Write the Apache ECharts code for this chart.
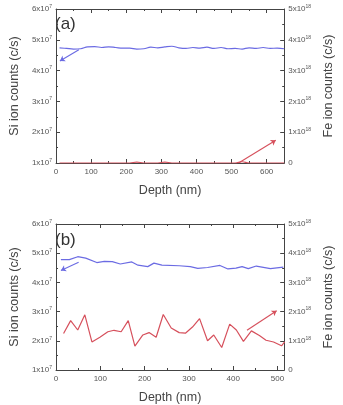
<!DOCTYPE html>
<html>
<head>
<meta charset="utf-8">
<script src="https://cdn.jsdelivr.net/npm/echarts@6/dist/echarts.min.js"></script>
<style>
  html, body { margin: 0; padding: 0; background: #fff; }
  #chart { width: 343px; height: 405px; }
</style>
</head>
<body>
<div id="chart"></div>
<script>
// Si in units of 1e7 c/s, Fe in units of 1e18 c/s, depth in nm
const depthA = [10, 30, 50, 70, 90, 110, 130, 150, 170, 190, 210, 230, 250, 270, 290, 310, 330,
  350, 370, 390, 410, 430, 450, 470, 490, 510, 530, 550, 570, 590, 610, 630, 650]
const siA = [4.74, 4.72, 4.70, 4.71, 4.77, 4.78, 4.75, 4.77, 4.75, 4.73, 4.73, 4.70, 4.71, 4.76, 4.74, 4.77, 4.79,
  4.74, 4.72, 4.75, 4.73, 4.76, 4.72, 4.75, 4.71, 4.72, 4.70, 4.74, 4.72, 4.75, 4.72, 4.73, 4.71]
const feA = [0, 0, 0, 0, 0, 0, 0, 0, 0, 0, 0, 0.03, 0, 0, 0, 0.03, 0,
  0, 0, 0, 0, 0, 0, 0, 0, 0, 0.04, 0, 0, 0, 0, 0, 0]

const depthSiB = [11, 30, 49, 67, 92, 109, 127, 145, 171, 185, 207, 221, 239, 278, 303, 320, 342,
  370, 388, 406, 420, 434, 452, 484, 513]
const siB = [4.78, 4.78, 4.88, 4.83, 4.68, 4.72, 4.71, 4.63, 4.70, 4.59, 4.54, 4.66, 4.59, 4.57, 4.54, 4.48, 4.51,
  4.58, 4.46, 4.49, 4.54, 4.47, 4.56, 4.47, 4.52]
const depthFeB = [17, 33, 49, 65, 81, 99, 117, 131, 147, 163, 178, 196, 210, 226, 242, 260, 278, 292,
  308, 324, 342, 356, 374, 392, 407, 423, 441, 459, 474, 491, 509, 516]
const feB = [1.25, 1.69, 1.37, 1.89, 0.96, 1.12, 1.31, 1.36, 1.31, 1.69, 0.82, 1.20, 1.28, 1.12, 1.90, 1.44, 1.28, 1.26,
  1.47, 1.76, 1.00, 1.20, 0.77, 1.57, 1.37, 0.98, 1.34, 1.18, 1.02, 0.96, 0.83, 0.96]

// arrows: [[x0, y0], [x1, y1]]
const arrowSiA = [[65, 4.68], [11, 4.31]]
const arrowFeA = [[520, 0], [626, 0.74]]
const arrowSiB = [[51, 4.69], [11, 4.41]]
const arrowFeB = [[431, 1.36], [498, 2.03]]

const xMaxA = 650
const xMaxB = 515

const blue = '#6b6be3'
const red = '#d6505c'
const axisColor = '#444'
const font = 'Liberation Sans'

const labelRich = {
  b: { fontSize: 8, color: '#555', fontFamily: font },
  s: { fontSize: 5, color: '#555', fontFamily: font, verticalAlign: 'top', padding: [0, 0, 5, 0] },
}

function siFmt(v) {
  return '{b|' + v + 'x10}{s|7}'
}
function feFmt(v) {
  return v === 0 ? '{b|0}' : '{b|' + v + 'x10}{s|18}'
}

function xAxes(grid, max, pos) {
  const base = {
    type: 'value',
    gridIndex: grid,
    min: 0,
    max: max,
    interval: 100,
    splitLine: { show: false },
    axisLine: { show: true, onZero: false, lineStyle: { color: axisColor } },
    axisTick: { show: true, inside: true, length: 4, lineStyle: { color: axisColor } },
    minorTick: { show: true, splitNumber: 2, length: 2, lineStyle: { color: axisColor } },
  }
  if (pos === 'top') {
    return Object.assign({}, base, { position: 'top', axisLabel: { show: false } })
  }
  return Object.assign({}, base, {
    position: 'bottom',
    name: 'Depth (nm)',
    nameLocation: 'middle',
    nameGap: 21,
    nameTextStyle: { fontSize: 12.5, color: '#444', fontFamily: font },
    axisLabel: { fontSize: 8, color: '#555', fontFamily: font, margin: 5, showMaxLabel: false },
  })
}

function yAxes(grid) {
  const common = {
    type: 'value',
    gridIndex: grid,
    interval: 1,
    splitLine: { show: false },
    axisLine: { show: true, onZero: false, lineStyle: { color: axisColor } },
    axisTick: { show: true, inside: true, length: 4, lineStyle: { color: axisColor } },
    minorTick: { show: true, splitNumber: 2, length: 2, lineStyle: { color: axisColor } },
    nameLocation: 'middle',
    nameRotate: 90,
    nameTextStyle: { fontSize: 12.5, color: '#444', fontFamily: font },
  }
  return [
    Object.assign({}, common, {
      position: 'left', min: 1, max: 6,
      name: 'Si ion counts (c/s)', nameGap: 32,
      axisLabel: { formatter: siFmt, rich: labelRich, margin: 4 },
    }),
    Object.assign({}, common, {
      position: 'right', min: 0, max: 5,
      name: 'Fe ion counts (c/s)', nameGap: 35,
      axisLabel: { formatter: feFmt, rich: labelRich, margin: 4 },
    }),
  ]
}

function zip(xs, ys) {
  return xs.map((x, i) => [x, ys[i]])
}

function lineSeries(xi, yi, data, color, smooth) {
  return {
    type: 'line',
    xAxisIndex: xi,
    yAxisIndex: yi,
    data: data,
    smooth: smooth,
    showSymbol: false,
    lineStyle: { color: color, width: 1.2 },
    itemStyle: { color: color },
    silent: true,
    animation: false,
  }
}

function arrowSeries(xi, yi, coords, color) {
  return {
    type: 'lines',
    coordinateSystem: 'cartesian2d',
    xAxisIndex: xi,
    yAxisIndex: yi,
    symbol: ['none', 'arrow'],
    symbolSize: 5,
    lineStyle: { color: color, width: 1.1, opacity: 1, curveness: 0 },
    data: [{ coords: coords }],
    silent: true,
    animation: false,
  }
}

const chart = echarts.init(document.getElementById('chart'), null, { renderer: 'canvas' })

const option = {
  backgroundColor: '#fff',
  animation: false,
  grid: [
    { left: 50, right: 52, top: 9, height: 154 },
    { left: 50, right: 52, top: 224, height: 157 },
  ],
  xAxis: [
    xAxes(0, xMaxA, 'bottom'),
    xAxes(0, xMaxA, 'top'),
    xAxes(1, xMaxB, 'bottom'),
    xAxes(1, xMaxB, 'top'),
  ],
  yAxis: yAxes(0).concat(yAxes(1)),
  graphic: [
    { type: 'text', left: 55, top: 16, style: { text: '(a)', fontSize: 17, fill: '#333', fontFamily: font } },
    { type: 'text', left: 55, top: 232, style: { text: '(b)', fontSize: 17, fill: '#333', fontFamily: font } },
  ],
  series: [
    lineSeries(0, 0, zip(depthA, siA), blue, 0.4),
    lineSeries(0, 1, zip(depthA, feA), red, 0.4),
    arrowSeries(0, 0, arrowSiA, blue),
    arrowSeries(0, 1, arrowFeA, red),
    lineSeries(2, 2, zip(depthSiB, siB), blue, false),
    lineSeries(2, 3, zip(depthFeB, feB), red, false),
    arrowSeries(2, 2, arrowSiB, blue),
    arrowSeries(2, 3, arrowFeB, red),
  ],
}

chart.setOption(option)
window.addEventListener('resize', () => {
  chart.resize()
})
</script>
</body>
</html>
